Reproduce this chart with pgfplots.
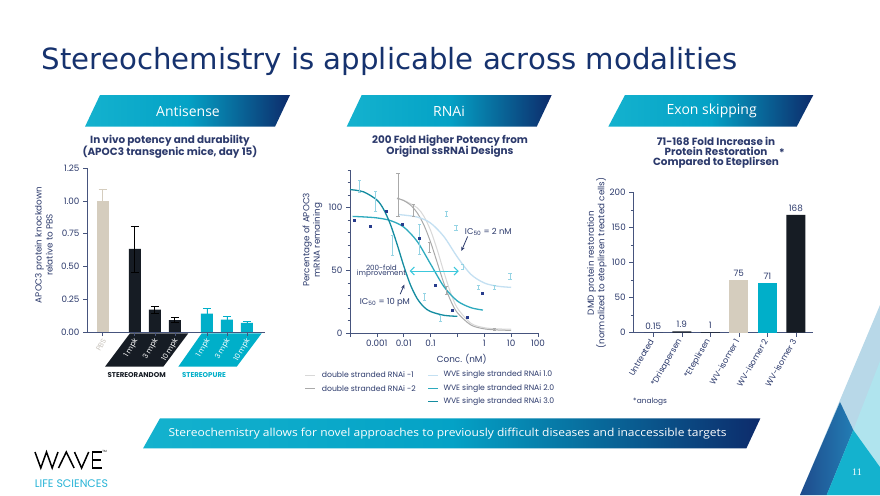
\documentclass[border=0pt]{standalone}
\usepackage{pgfplots}
\pgfplotsset{compat=1.18}
\usepackage{fontspec}
\setmainfont{Poppins}
\newfontfamily\dejavu{DejaVu Sans}
\newfontfamily\opensans{Open Sans}
\newfontfamily\libserif{Liberation Serif}
\usetikzlibrary{arrows.meta}
\definecolor{navy}{RGB}{44,58,108}
\definecolor{titleblue}{RGB}{22,50,110}
\definecolor{beige}{RGB}{213,205,190}
\definecolor{darkbar}{RGB}{22,28,36}
\definecolor{cyanbar}{RGB}{0,175,201}
\definecolor{axiscol}{RGB}{70,84,125}
\definecolor{bcyan}{RGB}{20,178,206}
\definecolor{bmid}{RGB}{4,162,198}
\definecolor{bnavy}{RGB}{13,43,107}
\definecolor{pbsgray}{RGB}{200,195,188}
\definecolor{cA}{RGB}{20,140,160}
\definecolor{cB}{RGB}{45,170,190}
\definecolor{cC}{RGB}{196,224,242}
\definecolor{gA}{RGB}{216,216,216}
\definecolor{gB}{RGB}{170,170,170}
\definecolor{ltcyan}{RGB}{150,212,228}
\definecolor{dotnavy}{RGB}{40,60,140}
\definecolor{arrowcyan}{RGB}{60,200,220}
\definecolor{logocyan}{RGB}{40,180,215}
\definecolor{palebl}{RGB}{184,216,232}
\definecolor{palecy}{RGB}{176,228,238}
\definecolor{dkblA}{RGB}{30,75,140}
\definecolor{dkblB}{RGB}{35,125,180}

\begin{document}
\begin{tikzpicture}
\useasboundingbox (0pt,0pt) rectangle (880pt,-495pt);
\fill[white] (0pt,0pt) rectangle (880pt,-495pt);

\begin{scope}[x=1pt,y=-1pt]
% bottom-right decoration
\fill[palebl] (880,305) -- (800,495) -- (880,495) -- cycle;
\fill[palecy] (882,356) -- (853.3,430) -- (880,495) -- cycle;
\shade[left color=dkblA, right color=dkblB] (840,402) -- (800,495) -- (826.7,495) -- (853.3,430) -- cycle;
\fill[bcyan] (853.3,430) -- (826.7,495) -- (900,495) -- cycle;
\node[white, font=\libserif\fontsize{10}{10}\selectfont] at (857,472) {11};

% title
\node[anchor=base west, inner sep=0, text=titleblue, font=\dejavu\fontsize{29.2}{30}\selectfont] at (41.7,70) {Stereochemistry is applicable across modalities};

% banners
\shade[left color=bcyan, right color=bnavy, middle color=bmid] (100,95) -- (290,95) -- (275,126.7) -- (85,126.7) -- cycle;
\shade[left color=bcyan, right color=bnavy, middle color=bmid] (361.7,95) -- (551.7,95) -- (536.7,126.7) -- (346.7,126.7) -- cycle;
\shade[left color=bcyan, right color=bnavy, middle color=bmid] (625,95) -- (813.3,95) -- (796.7,126.7) -- (608.3,126.7) -- cycle;
\node[white, font=\opensans\fontsize{14}{14}\selectfont] at (188,111) {Antisense};
\node[white, font=\opensans\fontsize{14}{14}\selectfont] at (449,111) {RNAi};
\node[white, font=\opensans\fontsize{14}{14}\selectfont] at (711.7,111) {Exon skipping};

% chart titles
\begin{scope}[every node/.style={text=navy, font=\bfseries\fontsize{10.4}{10.4}\selectfont, inner sep=0}]
\node at (170,141) {In vivo potency and durability};
\node at (170,152.3) {(APOC3 transgenic mice, day 15)};
\node at (450,141) {200 Fold Higher Potency from};
\node at (450,151.7) {Original ssRNAi Designs};
\node at (716,141) {71-168 Fold Increase in};
\node at (716,151.7) {Protein Restoration};
\node at (716,162.3) {Compared to Eteplirsen};
\node at (782,153) {*};
\end{scope}

% y labels
\begin{scope}[every node/.style={text=navy, font=\fontsize{8.8}{8.8}\selectfont, inner sep=0, rotate=90}]
\node at (39.3,245) {APOC3 protein knockdown};
\node at (49.3,245) {relative to PBS};
\node at (307.3,240) {Percentage of APOC3};
\node at (317.7,240) {mRNA remaining};
\node at (591.7,263) {DMD protein restoration};
\node at (601.5,263) {(normalized to eteplirsen treated cells)};
\end{scope}

% chart 1 category bands
\fill[darkbar] (130,333.3) -- (188.3,333.3) -- (163.3,366.7) -- (105,366.7) -- cycle;
\fill[cyanbar] (201.7,333.3) -- (261.7,333.3) -- (236.7,366.7) -- (178.3,366.7) -- cycle;
\node[text=darkbar, font=\bfseries\fontsize{7}{7}\selectfont] at (136.7,375.5) {STEREORANDOM};
\node[text=cyanbar, font=\bfseries\fontsize{7}{7}\selectfont] at (204,375.5) {STEREOPURE};
\end{scope}

% ---------------- Chart 1: Antisense ----------------
\begin{axis}[
  at={(87pt,-332pt)}, anchor=south west,
  scale only axis, width=178pt, height=164pt,
  xmin=-0.785, xmax=8.1, ymin=0, ymax=1.25,
  axis x line*=bottom, axis y line*=left,
  axis line style={axiscol, line width=0.8pt, -},
  ytick={0,0.25,0.5,0.75,1,1.25},
  /pgf/number format/assume math mode=true,
  yticklabel style={/pgf/number format/fixed, /pgf/number format/fixed zerofill, /pgf/number format/precision=2, font=\fontsize{8.8}{8.8}\selectfont, text=navy},
  xtick={0,1.6,2.6,3.6,5.2,6.2,7.2},
  xticklabels={\textcolor{pbsgray}{PBS},1 mpk,3 mpk,10 mpk,1 mpk,3 mpk,10 mpk},
  xticklabel style={font=\fontsize{7.3}{7.3}\selectfont, text=white, rotate=60, anchor=east, yshift=-3pt, xshift=1.5pt},
  tick style={axiscol, line width=0.6pt},
  tick align=outside, major tick length=4pt,
  clip=false,
]
\addplot[ybar, bar width=12pt, bar shift=0pt, fill=beige, draw=none,
  error bars/.cd, y dir=both, y explicit,
  error bar style={beige, line width=0.8pt},
  error mark options={rotate=90, mark size=4pt, beige, line width=0.8pt}]
  coordinates {(0,1.0) +- (0,0.09)};
\addplot[ybar, bar width=12pt, bar shift=0pt, fill=darkbar, draw=none,
  error bars/.cd, y dir=both, y explicit,
  error bar style={black, line width=0.8pt},
  error mark options={rotate=90, mark size=4pt, black, line width=0.8pt}]
  coordinates {(1.6,0.633) +- (0,0.175) (2.6,0.17) +- (0,0.025) (3.6,0.09) +- (0,0.018)};
\addplot[ybar, bar width=12pt, bar shift=0pt, fill=cyanbar, draw=none,
  error bars/.cd, y dir=both, y explicit,
  error bar style={cyanbar, line width=0.8pt},
  error mark options={rotate=90, mark size=4pt, cyanbar, line width=0.8pt}]
  coordinates {(5.2,0.14) +- (0,0.038) (6.2,0.094) +- (0,0.026) (7.2,0.069) +- (0,0.012)};
\end{axis}

% ---------------- Chart 2: RNAi ----------------
\begin{axis}[
  at={(350pt,-333pt)}, anchor=south west,
  scale only axis, width=188pt, height=163pt,
  xmin=0, xmax=7, ymin=0, ymax=130,
  axis x line*=bottom, axis y line*=left,
  axis line style={axiscol, line width=0.8pt, -},
  xtick={0,1,2,3,4,5,6,7},
  xticklabels={,0.001,0.01,0.1,,1,10,100},
  ytick={0,50,100},
  minor ytick={10,20,30,40,60,70,80,90,110,120,130},
  /pgf/number format/assume math mode=true,
  ticklabel style={font=\fontsize{8.8}{8.8}\selectfont, text=navy},
  tick style={axiscol, line width=0.6pt},
  tick align=outside, major tick length=4pt, minor tick length=2.5pt,
  clip=false,
]
% double stranded RNAi -1
\addplot[gA, line width=1pt, smooth] coordinates {
 (1.75,106.9) (2.0,105.9) (2.5,99.9) (2.75,93.1) (3.0,81.9) (3.25,66.2) (3.5,48.3) (3.75,31.9) (4.0,19.8) (4.5,7.8) (5.0,4.25) (5.5,3.3) (6.0,3.1)};
% double stranded RNAi -2
\addplot[gB, line width=1pt, smooth] coordinates {
 (1.75,107.6) (2.0,105.6) (2.25,102.1) (2.5,95.9) (2.75,86.2) (3.0,72.5) (3.25,56) (3.5,39.4) (3.75,25.7) (4.0,16.1) (4.5,6.4) (5.0,3.3) (5.5,2.4) (6.0,2.1)};
% WVE 1.0
\addplot[cC, line width=1.3pt, smooth] coordinates {
 (1.8,94.5) (2.5,92.5) (3.0,87.7) (3.5,76.8) (4.0,60.5) (4.5,46.8) (5.0,39.9) (5.5,37.3) (6.0,36.4)};
% WVE 2.0
\addplot[cB, line width=1.3pt, smooth] coordinates {
 (0.1,93.0) (0.5,92.6) (1.0,91.8) (1.5,89.7) (2.0,84.5) (2.5,73.1) (3.0,55) (3.5,36.9) (4.0,25.5) (4.5,20.2) (4.95,18.3)};
% WVE 3.0
\addplot[cA, line width=1.3pt, smooth] coordinates {
 (0,114.4) (0.5,112.6) (1.0,106.1) (1.25,98.7) (1.5,86.9) (1.75,71) (2.0,53.6) (2.25,38.4) (2.5,27.5) (2.75,20.8) (3.0,17.1) (3.5,14.1) (4.0,13.3)};
% light cyan error bars
\addplot[only marks, mark=|, mark size=0.5pt, mark options={ltcyan, line width=0.6pt}, error bars/.cd, y dir=both, y explicit,
  error bar style={ltcyan, line width=0.6pt},
  error mark options={rotate=90, mark size=1.6pt, ltcyan, line width=0.6pt}]
  coordinates {(0.35,117) +- (0,5) (0.96,105) +- (0,8) (1.57,70) +- (0,8) (2.59,75) +- (0,12)
   (2.78,29) +- (0,3) (3.37,12) +- (0,2.5) (3.58,95) +- (0,2) (3.95,84) +- (0,2) (4.2,53) +- (0,2)
   (4.77,36.4) +- (0,1.5) (5.37,36.4) +- (0,1.5) (5.96,45) +- (0,2.5)};
% gray error bars
\addplot[only marks, mark=|, mark size=0.5pt, mark options={gB, line width=0.6pt}, error bars/.cd, y dir=both, y explicit,
  error bar style={gB, line width=0.6pt},
  error mark options={rotate=90, mark size=1.6pt, gB, line width=0.6pt}]
  coordinates {(1.79,110) +- (0,17) (2.35,98) +- (0,5) (2.96,68) +- (0,4) (3.58,34) +- (0,3) (5.37,3) +- (0,1)};
% navy data points
\addplot[only marks, mark=square*, mark size=1pt, dotnavy] coordinates {
 (0.15,90) (0.74,85) (1.36,97) (1.95,87) (2.57,76) (3.17,38) (3.79,18.5) (4.38,13) (4.94,31.5)};
% annotations
\draw[-{Stealth[length=4pt,width=3.5pt]}, navy, line width=0.8pt] (axis cs:4.38,77) -- (axis cs:4.15,65.5);
\draw[-{Stealth[length=4pt,width=3.5pt]}, navy, line width=0.8pt] (axis cs:1.87,31) -- (axis cs:2.02,38.5);
\draw[{Straight Barb[length=4pt]}-{Straight Barb[length=4pt]}, arrowcyan, line width=1.1pt] (axis cs:2.22,49.4) -- (axis cs:4.05,49.4);
\node[text=navy, font=\fontsize{8.4}{8.4}\selectfont] at (axis cs:5.15,80.5) {IC\textsubscript{50} = 2 nM};
\node[text=navy, font=\fontsize{8.4}{8.4}\selectfont] at (axis cs:1.3,24.7) {IC\textsubscript{50} = 10 pM};
\node[text=navy, font=\fontsize{7.2}{7.2}\selectfont, align=center, inner sep=0] at (axis cs:1.17,49.2) {200-fold\\[-1.5pt]improvement};
\end{axis}

% ---------------- Chart 3: Exon skipping ----------------
\begin{axis}[
  at={(633.3pt,-332.7pt)}, anchor=south west,
  scale only axis, width=180pt, height=140.4pt,
  xmin=-0.7, xmax=5.61, ymin=0, ymax=200,
  axis x line*=bottom, axis y line*=left,
  axis line style={axiscol, line width=0.8pt, -},
  ytick={0,50,100,150,200}, minor y tick num=1,
  xtick={0,1,2,3,4,5},
  xticklabels={Untreated,*Drisapersen,*Eteplirsen,WV-isomer 1,WV-isomer 2,WV-isomer 3},
  xticklabel style={font=\fontsize{8.2}{8.2}\selectfont, text=navy, rotate=60, anchor=east},
  /pgf/number format/assume math mode=true,
  yticklabel style={font=\fontsize{8.8}{8.8}\selectfont, text=navy},
  tick style={axiscol, line width=0.6pt},
  tick align=outside, major tick length=4pt, minor tick length=2.5pt,
  clip=false,
]
\addplot[ybar, bar width=19pt, bar shift=0pt, fill=darkbar, draw=none,
  nodes near coords, nodes near coords style={text=navy, font=\fontsize{8.8}{8.8}\selectfont}]
  coordinates {(0,0.15) (1,1.9) (2,1) (5,168)};
\addplot[ybar, bar width=19pt, bar shift=0pt, fill=beige, draw=none,
  nodes near coords, nodes near coords style={text=navy, font=\fontsize{8.8}{8.8}\selectfont}]
  coordinates {(3,75)};
\addplot[ybar, bar width=19pt, bar shift=0pt, fill=cyanbar, draw=none,
  nodes near coords, nodes near coords style={text=navy, font=\fontsize{8.8}{8.8}\selectfont}]
  coordinates {(4,71)};
\end{axis}

\begin{scope}[x=1pt,y=-1pt]
% chart 2 x label and legend
\node[text=navy, font=\fontsize{8.8}{8.8}\selectfont] at (461.7,359.3) {Conc. (nM)};
\begin{scope}[every node/.style={text=navy, font=\fontsize{7.7}{7.7}\selectfont, anchor=west, inner sep=0}]
\draw[gA, line width=1pt] (305,375) -- (315,375);
\node at (321.7,375) {double stranded RNAi -1};
\draw[gB, line width=1pt] (305,388.3) -- (315,388.3);
\node at (321.7,388.3) {double stranded RNAi -2};
\draw[cC, line width=1pt] (428.3,375) -- (438.3,375);
\node at (443.3,375) {WVE single stranded RNAi 1.0};
\draw[cB, line width=1pt] (428.3,388.3) -- (438.3,388.3);
\node at (443.3,388.3) {WVE single stranded RNAi 2.0};
\draw[cA, line width=1pt] (428.3,401.7) -- (438.3,401.7);
\node at (443.3,401.7) {WVE single stranded RNAi 3.0};
\node[font=\fontsize{7.4}{7.4}\selectfont] at (633,401.7) {*analogs};
\end{scope}

% bottom banner
\shade[left color=bcyan, right color=bnavy, middle color=bmid] (160,418.3) -- (760.4,418.3) -- (746.4,448.3) -- (143.1,448.3) -- cycle;
\node[white, inner sep=0] at (447.6,433.5) {\resizebox{558pt}{8.4pt}{\opensans\fontsize{12}{12}\selectfont Stereochemistry allows for novel approaches to previously difficult diseases and inaccessible targets}};

% WAVE logo
\draw[black, line width=1.5pt, line join=miter] (35,452) -- (40.8,468) -- (46.5,452) -- (52.2,468) -- (58,452);
\draw[black, line width=1.5pt, line join=miter] (58.5,468) -- (66.3,452) -- (74.1,468);
\draw[black, line width=1.5pt, line join=miter] (74.5,452) -- (81.6,468) -- (88.7,452);
\draw[black, line width=1.5pt, line join=miter] (101.5,452) -- (92.5,452) -- (92.5,468) -- (101.5,468);
\draw[black, line width=1.2pt] (92.5,460) -- (100.5,460);
\node[font=\fontsize{3}{3}\selectfont, inner sep=0] at (104.5,451.5) {TM};
\node[inner sep=0, text=logocyan] at (71.5,483.5) {\resizebox{73pt}{!}{\fontsize{7}{7}\selectfont LIFE SCIENCES}};
\end{scope}
\end{tikzpicture}
\end{document}
